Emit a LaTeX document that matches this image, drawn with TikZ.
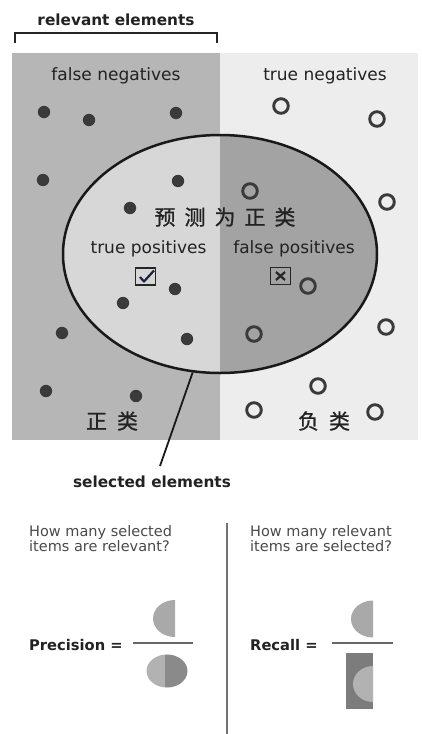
\documentclass[tikz,border=0pt]{standalone}
\usepackage{fontspec}
\setmainfont{DejaVu Sans}
\newfontfamily\cjk[FakeBold=0.8]{Noto Sans CJK SC}
\usetikzlibrary{shapes.geometric}
\definecolor{relgray}{HTML}{B6B6B6}
\definecolor{nonrel}{HTML}{EDEDED}
\definecolor{tpcol}{HTML}{D7D7D7}
\definecolor{fpcol}{HTML}{A3A3A3}
\definecolor{dotcol}{HTML}{3A3A3A}
\definecolor{txtcol}{HTML}{222222}
\definecolor{qcol}{HTML}{4A4A4A}
\definecolor{halfcol}{HTML}{A9A9A9}
\definecolor{darkhalf}{HTML}{8A8A8A}
\definecolor{rectcol}{HTML}{7C7C7C}
\definecolor{checkcol}{HTML}{1E2240}
\tikzset{
  lbl/.style={inner sep=0pt, anchor=base, text=txtcol, font=\fontsize{17}{19}\selectfont},
  boldlbl/.style={inner sep=0pt, anchor=base, text=txtcol, font=\fontsize{15.3}{18}\selectfont\bfseries},
  cjklbl/.style={inner sep=0pt, anchor=center, text=txtcol, font=\fontsize{21}{24}\selectfont\cjk},
  qlbl/.style={inner sep=0pt, anchor=base west, text=qcol, align=left, font=\fontsize{14.5}{15}\selectfont},
  eqlbl/.style={inner sep=0pt, anchor=base west, text=txtcol, font=\fontsize{14.7}{17}\selectfont\bfseries},
  dot/.style={fill=dotcol},
  ring/.style={draw=dotcol, line width=2.9pt},
  iconbox/.style={draw=black!85, line width=1.6pt, minimum width=20pt, minimum height=17pt, inner sep=0pt},
  fracbar/.style={draw=black!60, line width=1.8pt}
}
\begin{document}
\begin{tikzpicture}[x=1pt,y=-1pt]
\useasboundingbox (0,0) rectangle (422,734);
\fill[white] (0,0) rectangle (422,734);

% bracket
\draw[line width=2.2pt, draw=black!85] (15,43) -- (15,33) -- (217,33) -- (217,43);
\node[boldlbl] (rel) at (116,25) {relevant elements};

% panels
\fill[relgray] (12,53) rectangle (220,440);
\fill[nonrel] (220,53) rectangle (418,440);

% ellipse halves
\begin{scope}
  \clip (220,254) ellipse [x radius=157, y radius=119];
  \fill[tpcol] (50,120) rectangle (220,390);
  \fill[fpcol] (220,120) rectangle (390,390);
\end{scope}
\node[ellipse, draw=black!90, line width=2.5pt, minimum width=314pt, minimum height=238pt, inner sep=0pt] (sel) at (220,254) {};

% labels
\node[lbl] (fn) at (116,80) {false negatives};
\node[lbl] (tn) at (325,80) {true negatives};
\node[lbl] (tp) at (148.5,253) {true positives};
\node[lbl] (fp) at (294,253) {false positives};
\node[cjklbl] (pred) at (225,217) {预\hspace{9pt}测\hspace{9pt}为\hspace{9pt}正\hspace{9pt}类};
\node[cjklbl] (pos) at (112,421) {正\hspace{10pt}类};
\node[cjklbl] (neg) at (324,421) {负\hspace{10pt}类};

% relevant dots
\foreach \px/\py in {44/112, 89/120, 176/113, 43/180, 178/181, 130/208, 175/289, 123/303, 62/333, 187/339, 46/391, 136/396}
  \fill[dot] (\px,\py) circle[radius=6.2];

% rings
\foreach \px/\py in {281/106, 377/119, 250/191, 387/202, 308/286, 254/334, 386/327, 318/386, 254/410, 375/412}
  \draw[ring] (\px,\py) circle[radius=7.3];

% icons
\node[iconbox] (tpicon) at (145.5,276.5) {};
\draw[checkcol, line width=2.2pt, line join=round] (140,277) -- (144,281.5) -- (154,270.5);
\node[iconbox] (fpicon) at (280.5,276) {};
\draw[black!85, line width=2.2pt] (276,272) -- (285,280) (276,280) -- (285,272);

% pointer
\coordinate (ptrend) at (160,466);
\draw[line width=1.8pt, draw=black!90] (sel.-103) -- (ptrend);
\node[boldlbl] (selel) at (152,487) {selected elements};

% separator
\coordinate (septop) at (227,523);
\coordinate (sepbot) at (227,734);
\draw[black!55, line width=1.1pt] (septop) -- (sepbot);

% questions
\node[qlbl] (q1) at (29,551) {How many selected\\items are relevant?};
\node[qlbl] (q2) at (250,551) {How many relevant\\items are selected?};

% precision
\node[eqlbl] (prec) at (29,650) {Precision =};
\begin{scope}
  \clip (150,595) rectangle (175,645);
  \fill[halfcol] (175,618.5) ellipse [x radius=22, y radius=18.5];
\end{scope}
\draw[fracbar] (133,643) -- (193,643);
\begin{scope}
  \clip (167,671) ellipse [x radius=20.5, y radius=16.5];
  \fill[black!30] (140,650) rectangle (165,690);
  \fill[darkhalf] (165,650) rectangle (190,690);
\end{scope}

% recall
\node[eqlbl] (rec) at (250,650) {Recall =};
\begin{scope}
  \clip (345,595) rectangle (373,645);
  \fill[halfcol] (373,619) ellipse [x radius=22, y radius=18.5];
\end{scope}
\draw[fracbar] (332,643) -- (393,643);
\fill[rectcol] (346,653) rectangle (373,709);
\begin{scope}
  \clip (346,653) rectangle (373,709);
  \fill[black!30] (373,684) ellipse [x radius=20, y radius=18];
\end{scope}
\end{tikzpicture}
\end{document}
